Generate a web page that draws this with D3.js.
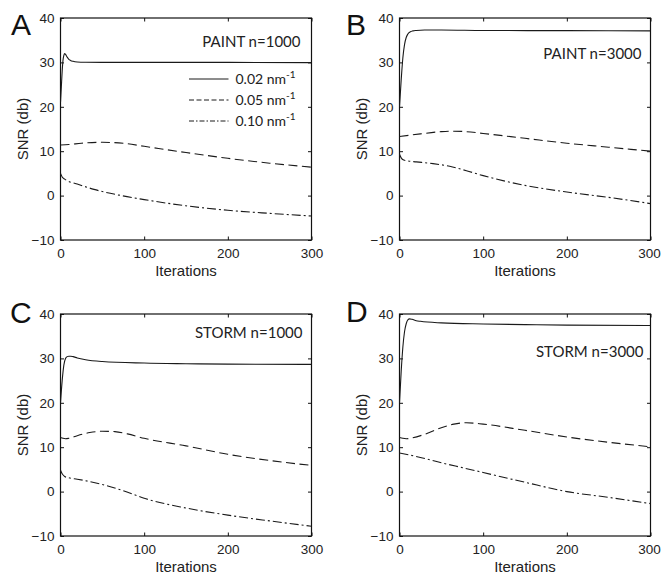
<!DOCTYPE html>
<html>
<head>
<meta charset="utf-8">
<script src="https://cdn.jsdelivr.net/npm/d3@7"></script>
<style>
  body { margin: 0; background: #fff; }
  svg { display: block; }
  .tick text { font-family: "Liberation Sans", Arial, sans-serif; font-size: 13.5px; fill: #222; }
  .axis-label { font-family: "Liberation Sans", Arial, sans-serif; font-size: 15px; fill: #222; }
  .panel-letter { font-family: "Liberation Sans", Arial, sans-serif; font-size: 30px; fill: #111; }
  .panel-title, .legend text { font-family: Lato, "Open Sans", sans-serif; fill: #222; }
</style>
</head>
<body>
<svg id="chart"></svg>
<script>
const width = 661;
const height = 577;

const xTicks = [0, 100, 200, 300];
const yTicks = [-10, 0, 10, 20, 30, 40];
const resolutions = ['0.02', '0.05', '0.10'];

// panel A: PAINT n=1000
const aIter02 = [0, 1, 2, 3, 4, 5, 6, 8, 10, 12, 15, 20, 30, 50, 100, 200, 300];
const aSnr02 = [21, 24.5, 28, 30.5, 31.6, 32, 31.8, 31.2, 30.7, 30.45, 30.25, 30.1, 30.03, 30, 30, 30, 29.95];
const aIter05 = [0, 10, 25, 50, 75, 100, 150, 200, 250, 300];
const aSnr05 = [11.4, 11.5, 11.8, 12.0, 11.8, 11.1, 9.7, 8.4, 7.3, 6.4];
const aIter10 = [0, 2, 5, 10, 20, 40, 70, 100, 150, 200, 250, 300];
const aSnr10 = [5.0, 4.2, 3.7, 3.2, 2.6, 1.4, 0.1, -0.9, -2.3, -3.3, -4.0, -4.6];

// panel B: PAINT n=3000
const bIter02 = [0, 2, 4, 6, 8, 10, 13, 16, 20, 30, 50, 100, 200, 300];
const bSnr02 = [20, 26, 31, 34, 35.6, 36.4, 36.9, 37.1, 37.2, 37.3, 37.3, 37.2, 37.15, 37.1];
const bIter05 = [0, 25, 50, 65, 80, 100, 150, 200, 250, 300];
const bSnr05 = [13.3, 13.9, 14.4, 14.5, 14.4, 14.0, 12.9, 11.8, 10.9, 10.0];
const bIter10 = [0, 2, 5, 10, 20, 40, 60, 80, 100, 150, 200, 250, 300];
const bSnr10 = [9.3, 8.5, 8.0, 7.8, 7.6, 7.2, 6.6, 5.6, 4.5, 2.3, 0.8, -0.4, -1.8];

// panel C: STORM n=1000
const cIter02 = [0, 2, 4, 6, 8, 10, 12, 15, 20, 30, 50, 100, 150, 200, 300];
const cSnr02 = [20, 25, 28.5, 30, 30.4, 30.5, 30.5, 30.4, 30.1, 29.7, 29.3, 28.95, 28.8, 28.7, 28.65];
const cIter05 = [0, 3, 6, 10, 20, 35, 50, 65, 80, 100, 150, 200, 250, 300];
const cSnr05 = [12.2, 12.0, 11.9, 12.0, 12.6, 13.3, 13.6, 13.5, 13.0, 12.0, 10.3, 8.4, 7.0, 5.9];
const cIter10 = [0, 2, 5, 10, 20, 50, 75, 100, 150, 200, 250, 300];
const cSnr10 = [4.8, 4.0, 3.4, 3.1, 2.8, 1.6, 0.2, -1.5, -3.7, -5.3, -6.6, -7.8];

// panel D: STORM n=3000
const dIter02 = [0, 2, 4, 6, 8, 10, 12, 15, 20, 25, 50, 100, 150, 200, 300];
const dSnr02 = [20, 27, 32.5, 36, 37.8, 38.7, 38.9, 38.8, 38.5, 38.35, 38.0, 37.75, 37.6, 37.5, 37.4];
const dIter05 = [0, 4, 8, 15, 30, 50, 65, 80, 100, 150, 200, 250, 300];
const dSnr05 = [12.2, 12.0, 11.9, 12.1, 12.9, 14.4, 15.2, 15.5, 15.2, 13.8, 12.3, 11.1, 10.1];
const dIter10 = [0, 25, 50, 75, 100, 150, 200, 250, 300];
const dSnr10 = [8.7, 7.7, 6.5, 5.4, 4.3, 2.1, 0.0, -1.3, -2.7];

const panels = [
  { letter: 'A', title: 'PAINT n=1000', iters: [aIter02, aIter05, aIter10], snrs: [aSnr02, aSnr05, aSnr10],
    left: 60.5, top: 18, titleDx: 11, titleDy: 29, legend: true, letterX: 11, letterY: 35 },
  { letter: 'B', title: 'PAINT n=3000', iters: [bIter02, bIter05, bIter10], snrs: [bSnr02, bSnr05, bSnr10],
    left: 399.5, top: 18, titleDx: 9, titleDy: 41, legend: false, letterX: 346, letterY: 35 },
  { letter: 'C', title: 'STORM n=1000', iters: [cIter02, cIter05, cIter10], snrs: [cSnr02, cSnr05, cSnr10],
    left: 60.5, top: 314, titleDx: 9, titleDy: 24, legend: false, letterX: 10, letterY: 323 },
  { letter: 'D', title: 'STORM n=3000', iters: [dIter02, dIter05, dIter10], snrs: [dSnr02, dSnr05, dSnr10],
    left: 399.5, top: 314, titleDx: 7, titleDy: 43, legend: false, letterX: 346, letterY: 322 }
];

const plotW = 251;
const plotH = 222;
const tickLen = 3.5;
const dashes = [null, '9,4.5', '9,3,2,3'];

const svg = d3.select('#chart').attr('width', width).attr('height', height);

const drawPanel = (p) => {
  const g = svg.append('g').attr('transform', `translate(${p.left},${p.top})`);

  const x = d3.scaleLinear().domain([0, 300]).range([0, plotW]);
  const y = d3.scaleLinear().domain([-10, 40]).range([plotH, 0]);

  // box with inward ticks on all four sides
  const xAxis = g.append('g').attr('transform', `translate(0,${plotH})`)
    .call(d3.axisBottom(x).tickValues(xTicks).tickSizeInner(-tickLen).tickSizeOuter(0).tickPadding(8))
    .call(a => a.select('.domain').remove());
  // keep the last label inside the page on the right-hand panels
  if (p.left + plotW + 12 > width) {
    xAxis.selectAll('.tick').filter(d => d === 300).select('text').attr('dx', -1.5);
  }
  g.append('g')
    .call(d3.axisTop(x).tickValues(xTicks).tickSizeInner(-tickLen).tickSizeOuter(0).tickFormat(''))
    .call(a => a.select('.domain').remove());
  g.append('g')
    .call(d3.axisLeft(y).tickValues(yTicks).tickSizeInner(-tickLen).tickSizeOuter(0).tickPadding(6))
    .call(a => a.select('.domain').remove());
  g.append('g').attr('transform', `translate(${plotW},0)`)
    .call(d3.axisRight(y).tickValues(yTicks).tickSizeInner(-tickLen).tickSizeOuter(0).tickFormat(''))
    .call(a => a.select('.domain').remove());
  g.selectAll('.tick line').attr('stroke', '#111');

  g.append('rect')
    .attr('width', plotW).attr('height', plotH)
    .attr('fill', 'none').attr('stroke', '#111').attr('stroke-width', 1.2);

  const line = d3.line()
    .x(d => x(d[0]))
    .y(d => y(d[1]))
    .curve(d3.curveMonotoneX);

  p.iters.forEach((iters, i) => {
    const pts = iters.map((it, j) => [it, p.snrs[i][j]]);
    g.append('path')
      .datum(pts)
      .attr('d', line)
      .attr('fill', 'none')
      .attr('stroke', '#1a1a1a')
      .attr('stroke-width', 1.1)
      .attr('stroke-dasharray', dashes[i]);
  });

  g.append('text').attr('class', 'panel-title')
    .attr('x', plotW - p.titleDx).attr('y', p.titleDy)
    .attr('text-anchor', 'end').style('font-size', '15px')
    .text(p.title);

  g.append('text').attr('class', 'axis-label')
    .attr('x', plotW / 2).attr('y', plotH + 36)
    .attr('text-anchor', 'middle')
    .text('Iterations');

  g.append('text').attr('class', 'axis-label')
    .attr('transform', `translate(-33,${plotH / 2}) rotate(-90)`)
    .attr('text-anchor', 'middle')
    .text('SNR (db)');

  svg.append('text').attr('class', 'panel-letter')
    .attr('x', p.letterX).attr('y', p.letterY)
    .text(p.letter);

  if (p.legend) {
    const lg = g.append('g').attr('class', 'legend');
    resolutions.forEach((r, i) => {
      const ly = 61 + i * 21;
      lg.append('line')
        .attr('x1', 128.5).attr('x2', 168)
        .attr('y1', ly).attr('y2', ly)
        .attr('stroke', '#1a1a1a').attr('stroke-width', 1)
        .attr('stroke-dasharray', i === 0 ? null : (i === 1 ? '5,2.5' : '5,2,1.5,2'));
      const t = lg.append('text').attr('x', 175).attr('y', ly + 5).style('font-size', '14px');
      t.append('tspan').text(`${r} nm`);
      t.append('tspan').attr('dy', -6).style('font-size', '10px').text('-1');
    });
  }
};

panels.forEach(drawPanel);
</script>
</body>
</html>
